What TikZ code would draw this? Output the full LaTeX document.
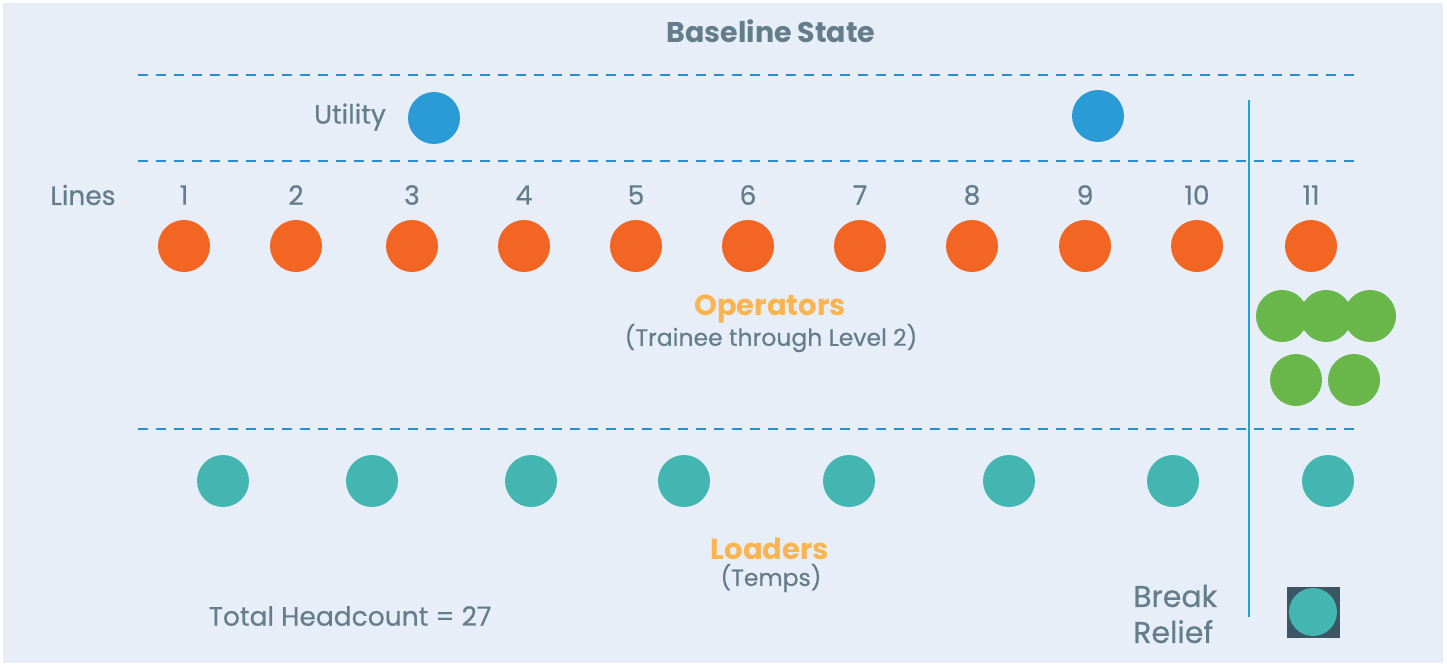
\documentclass[tikz,border=0pt]{standalone}
\usepackage{fontspec}
\setmainfont{Poppins}
\newfontfamily\medfont{Poppins}[FakeBold=0.5]
\begin{document}
\begin{tikzpicture}[x=1pt,y=-1pt,
  txt/.style={text=gtxt,font=\medfont\fontsize{26.5}{30}\selectfont,inner sep=0pt},
  sub/.style={txt,font=\medfont\fontsize{23.5}{28}\selectfont},
  head/.style={text=otxt,font=\fontsize{29}{32}\selectfont\bfseries,inner sep=0pt},
  dot/.style={circle,minimum size=52pt,inner sep=0pt,fill=#1},
  dline/.style={draw=dashc,line width=1.5pt,dash pattern=on 10pt off 8pt}]
\definecolor{bg}{HTML}{E8EEF8}
\definecolor{gtxt}{HTML}{637D8B}
\definecolor{otxt}{HTML}{FBB550}
\definecolor{dashc}{HTML}{2A8FD0}
\definecolor{vline}{HTML}{1BA4E3}
\definecolor{util}{HTML}{2A9BD4}
\definecolor{oper}{HTML}{F36523}
\definecolor{grn}{HTML}{69B64A}
\definecolor{teal}{HTML}{43B6B1}
\definecolor{dark}{HTML}{3D5666}
\useasboundingbox (0,0) rectangle (1447,666);
\fill[white] (0,0) rectangle (1447,666);
\fill[bg] (3,3) rectangle (1443,663);
% title
\node[txt,font=\fontsize{28.5}{32}\selectfont\bfseries] (title) at (771,31) {Baseline State};
% dashed lines
\coordinate (d1a) at (138,75); \coordinate (d1b) at (1355,75);
\coordinate (d2a) at (138,161); \coordinate (d2b) at (1355,161);
\coordinate (d3a) at (138,429); \coordinate (d3b) at (1355,429);
\draw[dline] (d1a) -- (d1b);
\draw[dline] (d2a) -- (d2b);
\draw[dline] (d3a) -- (d3b);
% vertical
\coordinate (va) at (1249,100); \coordinate (vb) at (1249,617);
\draw[vline,line width=1.5pt] (va) -- (vb);
% utility
\node[txt] (util) at (350,117) {Utility};
\node[dot=util] (u1) at (434,118) {};
\node[dot=util] (u2) at (1098,116) {};
% lines
\node[txt] (lines) at (83,195) {Lines};
\foreach \i/\x in {1/184,2/296,3/412,4/524,5/636,6/748,7/860,8/972,9/1085,10/1197,11/1311}{
  \node[txt] (n\i) at (\x,195) {\i};
  \node[dot=oper] (o\i) at (\x,246) {};
}
\node[head] (ops) at (770,309) {Operators};
\node[sub] (opsub) at (771,338) {(Trainee through Level 2)};
% green
\node[dot=grn] (g1) at (1282,316) {};
\node[dot=grn] (g2) at (1326,316) {};
\node[dot=grn] (g3) at (1370,316) {};
\node[dot=grn] (g4) at (1296,380) {};
\node[dot=grn] (g5) at (1354,380) {};
% loaders
\foreach \i/\x in {1/223,2/372,3/531,4/684,5/849,6/1009,7/1173,8/1328}{
  \node[dot=teal] (t\i) at (\x,481) {};
}
\node[head] (load) at (770,549) {Loaders};
\node[sub] (lsub) at (771,578) {(Temps)};
\node[txt] (total) at (350,616) {Total Headcount = 27};
\node[txt,anchor=west,align=left,font=\medfont\fontsize{30}{36}\selectfont] (br) at (1133,614) {Break\\Relief};
\node[fill=dark,minimum width=53pt,minimum height=51pt,inner sep=0pt] (sq) at (1313.5,612) {};
\node[dot=teal,minimum size=48pt] (bt) at (1313,612) {};
\end{tikzpicture}
\end{document}
